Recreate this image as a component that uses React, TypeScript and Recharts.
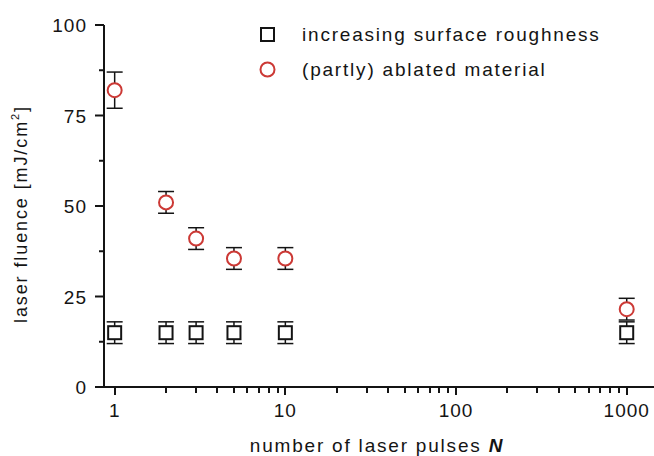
import { ScatterChart, Scatter, XAxis, YAxis, ErrorBar } from 'recharts';

document.body.style.margin = '0';

const FONT = '"Liberation Sans", Arial, sans-serif';
const INK = '#141414';
const RED = '#cc3935';

const pulses = [1, 2, 3, 5, 10, 1000];
const roughnessValues = [15, 15, 15, 15, 15, 15];
const roughnessErrors = [3, 3, 3, 3, 3, 3];
const ablatedValues = [82, 51, 41, 35.5, 35.5, 21.5];
const ablatedErrors = [5, 3, 3, 3, 3, 3];

const xMajorTicks = [1, 10, 100, 1000];
const xMinorTicks = [2, 3, 4, 5, 6, 7, 8, 9, 20, 30, 40, 50, 60, 70, 80, 90, 200, 300, 400, 500, 600, 700, 800, 900];
const yMajorTicks = [0, 25, 50, 75, 100];
const yMinorTicks = [12.5, 37.5, 62.5, 87.5];

const legendLabels = ['increasing surface roughness', '(partly) ablated material'];

const roughness = pulses.map((x, i) => ({ x, y: roughnessValues[i], err: roughnessErrors[i] }));
const ablated = pulses.map((x, i) => ({ x, y: ablatedValues[i], err: ablatedErrors[i] }));

const SquareDot = (props: any) => (
  <rect x={props.cx - 6.5} y={props.cy - 6.5} width={13} height={13} fill="#fff" stroke={INK} strokeWidth={2} />
);

const CircleDot = (props: any) => (
  <circle cx={props.cx} cy={props.cy} r={7} fill="#fff" stroke={RED} strokeWidth={2} />
);

// tick lines + labels drawn by hand so minor ticks can be shorter
function XTick(props: any) {
  const { x, y, payload } = props;
  const major = xMajorTicks.includes(payload.value);
  const px = Math.round(x);
  return (
    <g>
      <rect x={px - 1} y={y} width={2} height={major ? 8 : 6} fill={INK} />
      {major && (
        <text x={x} y={y + 30} textAnchor="middle" fontFamily={FONT} fontSize={19} letterSpacing={1} fill={INK}>
          {payload.value}
        </text>
      )}
    </g>
  );
}

function YTick(props: any) {
  const { x, y, payload } = props;
  const major = yMajorTicks.includes(payload.value);
  return (
    <g>
      <line x1={x} x2={x - (major ? 9 : 5)} y1={y} y2={y} stroke={INK} strokeWidth={2} />
      {major && (
        <text x={x - 17} y={y + 7} textAnchor="end" fontFamily={FONT} fontSize={19} letterSpacing={1} fill={INK}>
          {payload.value}
        </text>
      )}
    </g>
  );
}

function XTitle(props: any) {
  const { viewBox } = props;
  return (
    <text x={377} y={viewBox.y + 65} textAnchor="middle" fontFamily={FONT} fontSize={19} fill={INK} letterSpacing={1.8}>
      number of laser pulses <tspan fontStyle="italic" fontWeight="bold">N</tspan>
    </text>
  );
}

function YTitle() {
  const cx = 21;
  const cy = 214;
  return (
    <text x={cx} y={cy} transform={`rotate(-90 ${cx} ${cy})`} textAnchor="middle" dominantBaseline="central" fontFamily={FONT} fontSize={18} fill={INK} letterSpacing={1.9}>
      laser fluence [mJ/cm<tspan baselineShift="super" fontSize={11}>2</tspan>]
    </text>
  );
}

function LegendBox() {
  const icons = [
    <rect key="s" x={2} y={2} width={13} height={13} fill="#fff" stroke={INK} strokeWidth={2} />,
    <circle key="c" cx={8.5} cy={8.5} r={7} fill="#fff" stroke={RED} strokeWidth={2} />,
  ];
  return (
    <div style={{ position: 'absolute', left: 259, top: 17, fontFamily: FONT, fontSize: 19, color: INK, letterSpacing: 1.8 }}>
      {legendLabels.map((label, i) => (
        <div key={label} style={{ display: 'flex', alignItems: 'center', height: 35, whiteSpace: 'nowrap' }}>
          <svg width={17} height={17} style={{ marginRight: 26 }}>{icons[i]}</svg>
          <span>{label}</span>
        </div>
      ))}
    </div>
  );
}

export default function App() {
  const axisStyle = { stroke: INK, strokeWidth: 2 };
  return (
    <div style={{ position: 'relative', width: 654, height: 456, background: '#fff' }}>
      <ScatterChart width={654} height={456} margin={{ top: 25, right: 0, bottom: 0, left: 0 }}>
        <XAxis
          type="number"
          dataKey="x"
          scale="log"
          domain={[0.866, 1445]}
          ticks={[...xMajorTicks, ...xMinorTicks].sort((a, b) => a - b)}
          interval={0}
          tickSize={0}
          tickMargin={0}
          tickLine={false}
          tick={<XTick />}
          axisLine={axisStyle}
          height={69}
          label={<XTitle />}
        />
        <YAxis
          type="number"
          dataKey="y"
          domain={[0, 100]}
          ticks={[...yMajorTicks, ...yMinorTicks].sort((a, b) => a - b)}
          interval={0}
          tickSize={0}
          tickMargin={0}
          tickLine={false}
          tick={<YTick />}
          axisLine={axisStyle}
          width={104}
          label={<YTitle />}
        />
        <Scatter name="increasing surface roughness" data={roughness} shape={SquareDot} isAnimationActive={false}>
          <ErrorBar dataKey="err" direction="y" width={8} stroke={INK} strokeWidth={1.5} />
        </Scatter>
        <Scatter name="(partly) ablated material" data={ablated} shape={CircleDot} isAnimationActive={false}>
          <ErrorBar dataKey="err" direction="y" width={8} stroke={INK} strokeWidth={1.5} />
        </Scatter>
      </ScatterChart>
      <LegendBox />
    </div>
  );
}
